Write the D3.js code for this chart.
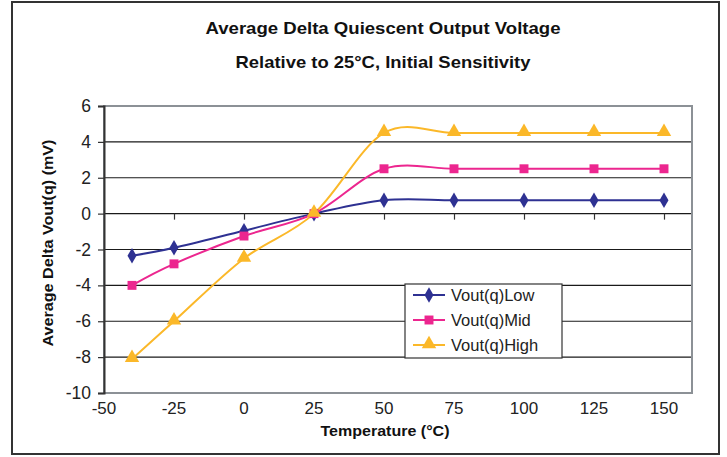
<!DOCTYPE html>
<html><head><meta charset="utf-8">
<script src="https://cdn.jsdelivr.net/npm/d3@7"></script>
<style>body{margin:0;background:#fff}svg{display:block;font-family:"Liberation Sans",Arial,sans-serif}</style>
</head><body><svg id="c" width="727" height="457"></svg>
<script>
const temps = [-40, -25, 0, 25, 50, 75, 100, 125, 150];
const vLow  = [-2.35, -1.9, -0.95, 0, 0.75, 0.75, 0.75, 0.75, 0.75];
const vMid  = [-4.0, -2.8, -1.25, 0, 2.5, 2.5, 2.5, 2.5, 2.5];
const vHigh = [-8.1, -6.0, -2.5, 0, 4.5, 4.5, 4.5, 4.5, 4.5];
const seriesNames = ["Vout(q)Low", "Vout(q)Mid", "Vout(q)High"];
const xTicks = [-50, -25, 0, 25, 50, 75, 100, 125, 150];
const yTicks = [-10, -8, -6, -4, -2, 0, 2, 4, 6];
const titleLines = ["Average Delta Quiescent Output Voltage", "Relative to 25°C, Initial Sensitivity"];

const colors = ["#2e3192", "#ec268f", "#fbb829"];
const shapes = [d3.symbolDiamond, d3.symbolSquare, d3.symbolTriangle];
const symSize = [70, 80, 90];

const svg = d3.select("#c");
svg.append("rect").attr("x", 12).attr("y", 2).attr("width", 707).attr("height", 452)
  .attr("fill", "#fff").attr("stroke", "#333").attr("stroke-width", 2);

const L = 104, R = 692, T = 106, B = 393;
const x = d3.scaleLinear().domain([-50, 160]).range([L, R]);
const y = d3.scaleLinear().domain([-10, 6]).range([B, T]);

// titles
const titleW = [355, 295];
svg.selectAll("text.title").data(titleLines).enter().append("text")
  .attr("x", 383).attr("y", (d, i) => 34 + i * 34).attr("text-anchor", "middle")
  .attr("font-weight", "bold").attr("font-size", 17).attr("fill", "#111")
  .attr("textLength", (d, i) => titleW[i]).attr("lengthAdjust", "spacingAndGlyphs").text(d => d);

// gridlines
svg.append("g").selectAll("line").data(yTicks.filter(v => v > -10 && v < 6)).enter().append("line")
  .attr("x1", L).attr("x2", R).attr("y1", d => y(d)).attr("y2", d => y(d))
  .attr("stroke", "#1a1a1a").attr("stroke-width", 1.2);

// plot border
svg.append("rect").attr("x", L).attr("y", T).attr("width", R - L).attr("height", B - T)
  .attr("fill", "none").attr("stroke", "#8c9196").attr("stroke-width", 2);

// y axis
const yAxis = d3.axisLeft(y).tickValues(yTicks).tickSize(6).tickPadding(7).tickFormat(d => String(d));
const gy = svg.append("g").attr("transform", `translate(${L},0)`).call(yAxis);
gy.select(".domain").attr("stroke", "#333").attr("stroke-width", 2);
gy.selectAll(".tick line").attr("stroke", "#333").attr("stroke-width", 1.2);
gy.selectAll(".tick text").attr("font-size", 17.5).attr("fill", "#222")
  .attr("font-family", "Liberation Sans, Arial, sans-serif");

// x axis at y=0 (ticks only), labels at bottom
const xAxis = d3.axisBottom(x).tickValues(xTicks.slice(1)).tickSize(6).tickFormat("");
const gx = svg.append("g").attr("transform", `translate(0,${y(0)})`).call(xAxis);
gx.select(".domain").remove();
gx.selectAll(".tick line").attr("stroke", "#333").attr("stroke-width", 1.2);
svg.append("g").selectAll("text").data(xTicks).enter().append("text")
  .attr("x", d => x(d)).attr("y", 414).attr("text-anchor", "middle")
  .attr("font-size", 17).attr("fill", "#222").text(d => String(d));

// axis titles
svg.append("text").attr("x", 385).attr("y", 436).attr("text-anchor", "middle")
  .attr("font-weight", "bold").attr("font-size", 15).attr("fill", "#111")
  .attr("textLength", 129).attr("lengthAdjust", "spacingAndGlyphs").text("Temperature (°C)");
svg.append("text").attr("transform", "translate(53,243) rotate(-90)").attr("text-anchor", "middle")
  .attr("font-weight", "bold").attr("font-size", 15).attr("fill", "#111")
  .attr("textLength", 207).attr("lengthAdjust", "spacingAndGlyphs")
  .text("Average Delta Vout(q) (mV)");

// series
const data = [vLow, vMid, vHigh];
const line = d3.line().x(d => x(d[0])).y(d => y(d[1])).curve(d3.curveCardinal.tension(0));
data.forEach((vals, i) => {
  const pts = temps.map((t, j) => [t, vals[j]]);
  svg.append("path").datum(pts).attr("d", line).attr("fill", "none")
    .attr("stroke", colors[i]).attr("stroke-width", 2);
});
data.forEach((vals, i) => {
  svg.append("g").selectAll("path").data(temps.map((t, j) => [t, vals[j]])).enter().append("path")
    .attr("transform", d => `translate(${x(d[0])},${y(d[1]) + (i === 2 ? -1 : 0)})`)
    .attr("d", d3.symbol().type(shapes[i]).size(symSize[i])).attr("fill", colors[i]);
});

// legend
const lg = svg.append("g");
lg.append("rect").attr("x", 405).attr("y", 284).attr("width", 157).attr("height", 74)
  .attr("fill", "#fff").attr("stroke", "#333").attr("stroke-width", 1.2);
seriesNames.forEach((n, i) => {
  const yy = 295 + i * 25;
  lg.append("line").attr("x1", 413).attr("x2", 445).attr("y1", yy).attr("y2", yy)
    .attr("stroke", colors[i]).attr("stroke-width", 2);
  lg.append("path").attr("transform", `translate(429,${yy + (i === 2 ? -1 : 0)})`)
    .attr("d", d3.symbol().type(shapes[i]).size(symSize[i])).attr("fill", colors[i]);
  lg.append("text").attr("x", 451).attr("y", yy + 6).attr("font-size", 16.5).attr("fill", "#222").text(n);
});
</script></body></html>
